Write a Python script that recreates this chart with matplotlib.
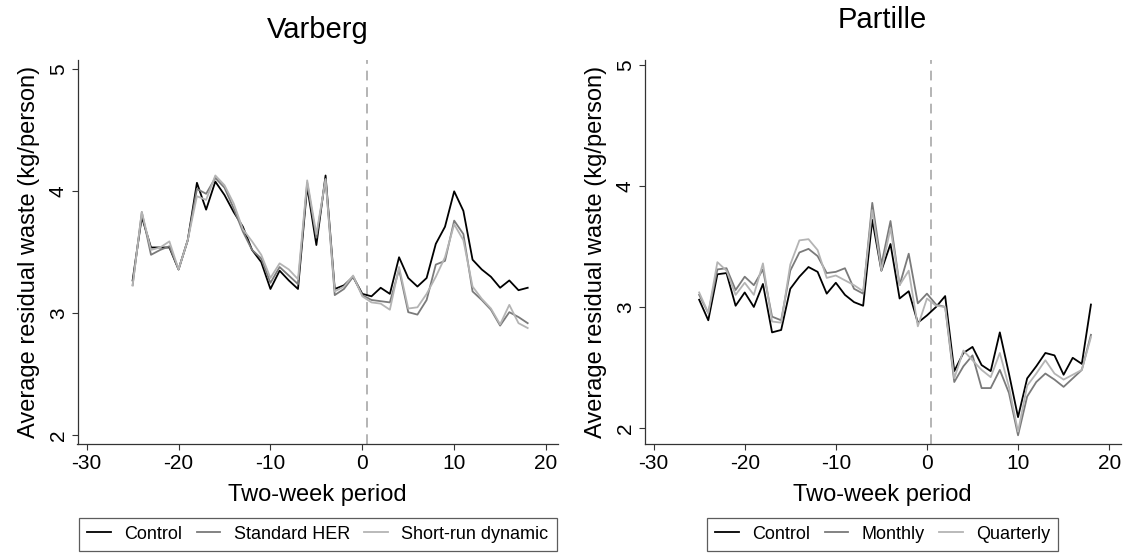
import matplotlib
matplotlib.use("Agg")
import matplotlib.pyplot as plt

plt.rcParams['font.family'] = ['Liberation Sans', 'DejaVu Sans']
plt.rcParams['axes.unicode_minus'] = False

# two-week periods relative to treatment start
periods = list(range(-25, 19))

# Varberg
varberg_control = [3.27, 3.79, 3.54, 3.54, 3.54, 3.36, 3.60, 4.07, 3.85, 4.08,
                   3.97, 3.83, 3.71, 3.52, 3.42, 3.20, 3.35, 3.27, 3.20, 4.04,
                   3.56, 4.13, 3.20, 3.23, 3.30, 3.16, 3.14, 3.21, 3.16, 3.46,
                   3.29, 3.22, 3.29, 3.57, 3.71, 4.00, 3.84, 3.44, 3.36, 3.30,
                   3.21, 3.27, 3.19, 3.21]
varberg_standard = [3.23, 3.83, 3.48, 3.52, 3.55, 3.36, 3.60, 4.02, 3.98, 4.11,
                    4.03, 3.86, 3.67, 3.52, 3.45, 3.25, 3.38, 3.31, 3.24, 4.07,
                    3.62, 4.10, 3.15, 3.20, 3.30, 3.15, 3.11, 3.10, 3.09, 3.36,
                    3.01, 2.99, 3.11, 3.40, 3.43, 3.76, 3.65, 3.18, 3.11, 3.03,
                    2.90, 3.01, 2.97, 2.92]
varberg_shortrun = [3.23, 3.83, 3.52, 3.54, 3.59, 3.36, 3.60, 3.96, 3.93, 4.13,
                    4.05, 3.90, 3.69, 3.59, 3.48, 3.29, 3.41, 3.36, 3.28, 4.09,
                    3.65, 4.10, 3.18, 3.22, 3.31, 3.14, 3.09, 3.08, 3.03, 3.38,
                    3.04, 3.05, 3.16, 3.30, 3.46, 3.73, 3.60, 3.22, 3.12, 3.04,
                    2.91, 3.07, 2.92, 2.88]

# Partille
partille_control = [3.06, 2.89, 3.27, 3.28, 3.01, 3.12, 3.00, 3.19, 2.79, 2.81,
                    3.15, 3.25, 3.33, 3.29, 3.11, 3.20, 3.10, 3.04, 3.01, 3.72,
                    3.30, 3.52, 3.07, 3.13, 2.87, 2.93, 3.00, 3.09, 2.47, 2.62,
                    2.67, 2.52, 2.47, 2.79, 2.45, 2.09, 2.41, 2.51, 2.62, 2.60,
                    2.44, 2.58, 2.53, 3.02]
partille_monthly = [3.10, 2.95, 3.31, 3.32, 3.14, 3.25, 3.18, 3.31, 2.92, 2.89,
                    3.30, 3.45, 3.48, 3.42, 3.28, 3.29, 3.32, 3.15, 3.11, 3.86,
                    3.35, 3.71, 3.18, 3.44, 3.03, 3.11, 3.02, 3.00, 2.38, 2.51,
                    2.60, 2.33, 2.33, 2.48, 2.29, 1.94, 2.26, 2.38, 2.45, 2.40,
                    2.34, 2.41, 2.48, 2.77]
partille_quarterly = [3.12, 2.95, 3.37, 3.30, 3.10, 3.20, 3.10, 3.36, 2.88, 2.87,
                      3.35, 3.55, 3.56, 3.47, 3.24, 3.26, 3.22, 3.18, 3.13, 3.80,
                      3.30, 3.65, 3.18, 3.30, 2.84, 3.07, 3.01, 3.00, 2.41, 2.64,
                      2.56, 2.48, 2.42, 2.62, 2.34, 1.97, 2.35, 2.45, 2.56, 2.45,
                      2.40, 2.44, 2.48, 2.75]

xticks = [-30, -20, -10, 0, 10, 20]
yticks = [2, 3, 4, 5]

W, H = 1123, 555
fig = plt.figure(figsize=(W / 100, H / 100), dpi=100)

def px(x0, y0, x1, y1):
    return [x0 / W, 1 - y1 / H, (x1 - x0) / W, (y1 - y0) / H]

panels = [
    ("Varberg", px(77.5, 60, 558, 444), (1.93, 5.076), 30,
     [(varberg_control, "Control"), (varberg_standard, "Standard HER"),
      (varberg_shortrun, "Short-run dynamic")]),
    ("Partille", px(644.5, 60, 1121, 444), (1.868, 5.04), 20,
     [(partille_control, "Control"), (partille_monthly, "Monthly"),
      (partille_quarterly, "Quarterly")]),
]
colors = ["#000000", "#7a7a7a", "#b4b4b4"]

for title, rect, ylim, title_y, series in panels:
    ax = fig.add_axes(rect)
    for (vals, lab), c in zip(series, colors):
        ax.plot(periods, vals, color=c, lw=1.3, label=lab)
    ax.axvline(0.5, color="#b4b4b4", lw=1.4, ls=(0, (5, 3.5)), zorder=0)
    ax.set_xlim(-31.0, 21.3)
    ax.set_ylim(*ylim)
    ax.set_xticks(xticks)
    ax.set_yticks(yticks)
    ax.set_yticklabels([str(t) for t in yticks], rotation=90, va="center")
    ax.tick_params(labelsize=15, length=4, width=0.8, color="#333333", pad=3)
    for s in ["top", "right"]:
        ax.spines[s].set_visible(False)
    for s in ["left", "bottom"]:
        ax.spines[s].set_color("#333333")
        ax.spines[s].set_linewidth(0.9)
    ax.set_xlabel("Two-week period", fontsize=17, labelpad=8)
    ax.set_ylabel("Average residual waste (kg/person)", fontsize=17, labelpad=6)
    cx = rect[0] + rect[2] / 2
    fig.text(cx, 1 - title_y / H, title, fontsize=21, ha="center", va="center")
    leg = ax.legend(loc="upper center", bbox_to_anchor=(cx, 1 - 517.5 / H),
                    bbox_transform=fig.transFigure, ncol=3, fontsize=13,
                    frameon=True, fancybox=False, edgecolor="#333333",
                    handlelength=1.3, handletextpad=0.75, columnspacing=0.8,
                    borderpad=0.45, borderaxespad=0)
    leg.get_frame().set_linewidth(0.9)

fig.savefig("out.png", dpi=100)
